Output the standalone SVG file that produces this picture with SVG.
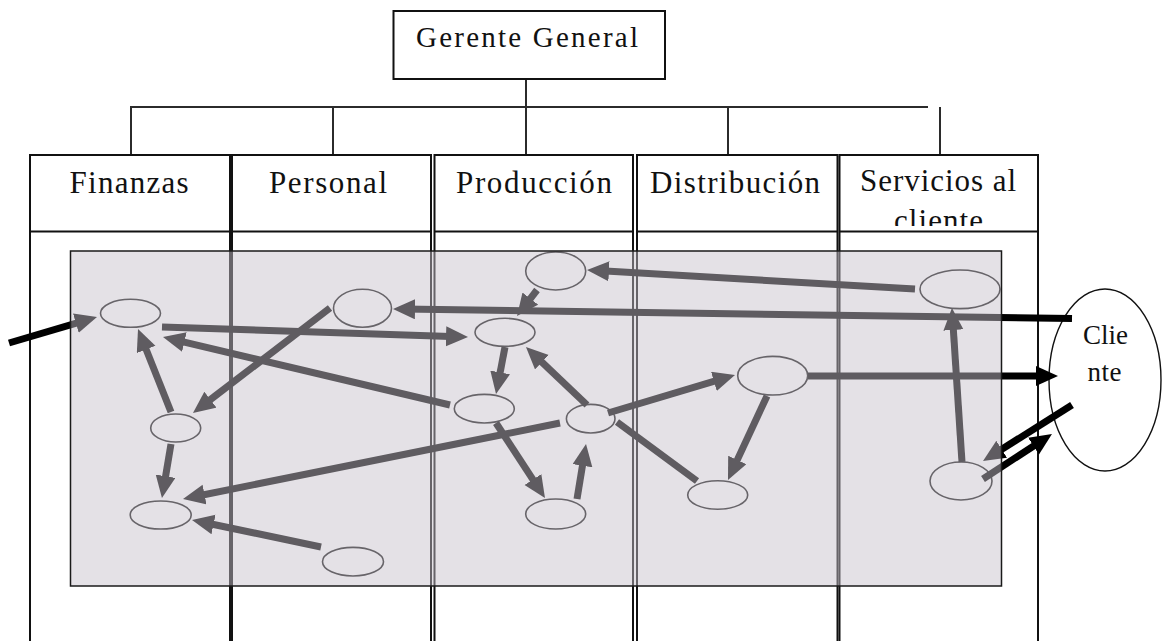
<svg xmlns="http://www.w3.org/2000/svg" width="1162" height="641" viewBox="0 0 1162 641">
  <defs>
    <style>
      .chart{stroke:#2b2b2b;stroke-width:2;fill:none}
      .col{fill:none;stroke:#111;stroke-width:2}
      .txt{font-family:"Liberation Serif","Times New Roman",serif;fill:#111;text-anchor:middle}
      .hdr{font-size:31px}
      .node{fill:none;stroke:#111;stroke-width:1.6}
      .flow{stroke:#000;stroke-width:7;fill:none;stroke-linecap:butt}
      .arr{marker-end:url(#ah)}
    </style>
    <marker id="ah" markerUnits="userSpaceOnUse" markerWidth="24" markerHeight="22" refX="12" refY="10" orient="auto">
      <path d="M0,0 L22,10 L0,20 Z" fill="#000"/>
    </marker>
    <clipPath id="servClip">
      <rect x="840" y="156" width="197" height="70"/>
    </clipPath>
  </defs>

  <rect x="0" y="0" width="1162" height="641" fill="#fff"/>

  <!-- org chart links -->
  <g id="org-links" class="chart">
    <line x1="526" y1="79" x2="526" y2="155"/>
    <line x1="130" y1="107" x2="928" y2="107"/>
    <line x1="131" y1="107" x2="131" y2="155"/>
    <line x1="333" y1="107" x2="333" y2="155"/>
    <line x1="728" y1="107" x2="728" y2="155"/>
    <line x1="940" y1="107" x2="940" y2="155"/>
  </g>

  <g id="gerente">
    <rect x="393.5" y="11" width="271.5" height="68" fill="#fff" stroke="#111" stroke-width="2"/>
    <text class="txt" x="527" y="46.5" font-size="29" textLength="222">Gerente General</text>
  </g>

  <!-- department columns -->
  <g id="col-finanzas">
    <rect class="col" x="30" y="155" width="200" height="500"/>
    <line class="col" x1="30" y1="231.5" x2="230" y2="231.5"/>
    <text class="txt hdr" x="129" y="192.5" textLength="119">Finanzas</text>
  </g>
  <g id="col-personal">
    <rect class="col" x="232" y="155" width="199" height="500"/>
    <line class="col" x1="232" y1="231.5" x2="431" y2="231.5"/>
    <text class="txt hdr" x="328" y="192.5" textLength="118">Personal</text>
  </g>
  <g id="col-produccion">
    <rect class="col" x="434.5" y="155" width="198.5" height="500"/>
    <line class="col" x1="434.5" y1="231.5" x2="633" y2="231.5"/>
    <text class="txt hdr" x="534" y="192.5" textLength="156">Producción</text>
  </g>
  <g id="col-distribucion">
    <rect class="col" x="637" y="155" width="200.5" height="500"/>
    <line class="col" x1="637" y1="231.5" x2="837.5" y2="231.5"/>
    <text class="txt hdr" x="735" y="192.5" textLength="170">Distribución</text>
  </g>
  <g id="col-servicios">
    <rect class="col" x="839.5" y="155" width="198.5" height="500"/>
    <line class="col" x1="839.5" y1="231.5" x2="1038" y2="231.5"/>
    <text class="txt hdr" x="938" y="191" textLength="156">Servicios al</text>
    <text class="txt hdr" x="938.5" y="231" textLength="89" clip-path="url(#servClip)">cliente</text>
  </g>

  <g id="cliente">
    <ellipse cx="1105" cy="380" rx="56" ry="91" fill="#fff" stroke="#111" stroke-width="1.4"/>
    <text class="txt" x="1105.5" y="344.3" font-size="27" textLength="45">Clie</text>
    <text class="txt" x="1104.5" y="381" font-size="27" textLength="34">nte</text>
  </g>

  <!-- activities -->
  <g id="n1"><ellipse class="node" cx="130.5" cy="313.3" rx="30" ry="14"/></g>
  <g id="n2"><ellipse class="node" cx="362.5" cy="308.3" rx="29" ry="19"/></g>
  <g id="n3"><ellipse class="node" cx="175.7" cy="428" rx="25" ry="14"/></g>
  <g id="n4"><ellipse class="node" cx="160.7" cy="515" rx="30.5" ry="14"/></g>
  <g id="n5"><ellipse class="node" cx="353" cy="561.7" rx="30.5" ry="14.3"/></g>
  <g id="n6"><ellipse class="node" cx="555.7" cy="271" rx="30" ry="19"/></g>
  <g id="n7"><ellipse class="node" cx="505" cy="332.3" rx="30" ry="14"/></g>
  <g id="n8"><ellipse class="node" cx="484.3" cy="408.7" rx="30" ry="14.3"/></g>
  <g id="n9"><ellipse class="node" cx="590.7" cy="418.7" rx="24.3" ry="14.3"/></g>
  <g id="n10"><ellipse class="node" cx="555.7" cy="514" rx="30" ry="15"/></g>
  <g id="n11"><ellipse class="node" cx="772.7" cy="375.7" rx="35" ry="19.3"/></g>
  <g id="n12"><ellipse class="node" cx="717.7" cy="495" rx="30" ry="14.3"/></g>
  <g id="n13"><ellipse class="node" cx="960" cy="289.3" rx="40" ry="19.3"/></g>
  <g id="n14"><ellipse class="node" cx="961" cy="481" rx="31" ry="19"/></g>

  <!-- flows -->
  <g id="connectors" class="flow">
    <path class="arr" d="M9,343 L87.4,319.8"/>
    <path class="arr" d="M162,327 L458,336.7"/>
    <path class="arr" d="M450,405 L172.7,339.3"/>
    <path class="arr" d="M171,412 L141.7,338.3"/>
    <path class="arr" d="M330,308 L200.9,406.9"/>
    <path class="arr" d="M171,444 L163.6,488.1"/>
    <path class="arr" d="M560,423 L192.8,497"/>
    <path class="arr" d="M321,547 L201.8,522"/>
    <path class="arr" d="M915,289 L597,270.6"/>
    <path class="arr" d="M537,290 L523.1,308.1"/>
    <path class="arr" d="M505,347 L497.9,384.2"/>
    <path class="arr" d="M587,405 L533.2,353.9"/>
    <path class="arr" d="M608,413 L725.4,377.9"/>
    <path class="arr" d="M496,423 L539.5,489.6"/>
    <path class="arr" d="M577,499 L584.4,453.9"/>
    <path d="M617,422 L697,481"/>
    <path class="arr" d="M767,396 L732.2,470.9"/>
    <path class="arr" d="M808,376 L1048,376"/>
    <path class="arr" d="M962,462 L952.6,318"/>
    <path class="arr" d="M1072,405 L991.5,455.7"/>
    <path class="arr" d="M983,479 L1043.6,439.5"/>
    <path class="arr" d="M1072,318.5 L403,309.1"/>
  </g>

  <!-- shaded process area -->
  <rect id="process-area" x="70.5" y="251" width="931" height="335" fill="#c7c0cb" fill-opacity="0.48" stroke="#1a1a1a" stroke-width="1.5"/>
</svg>
